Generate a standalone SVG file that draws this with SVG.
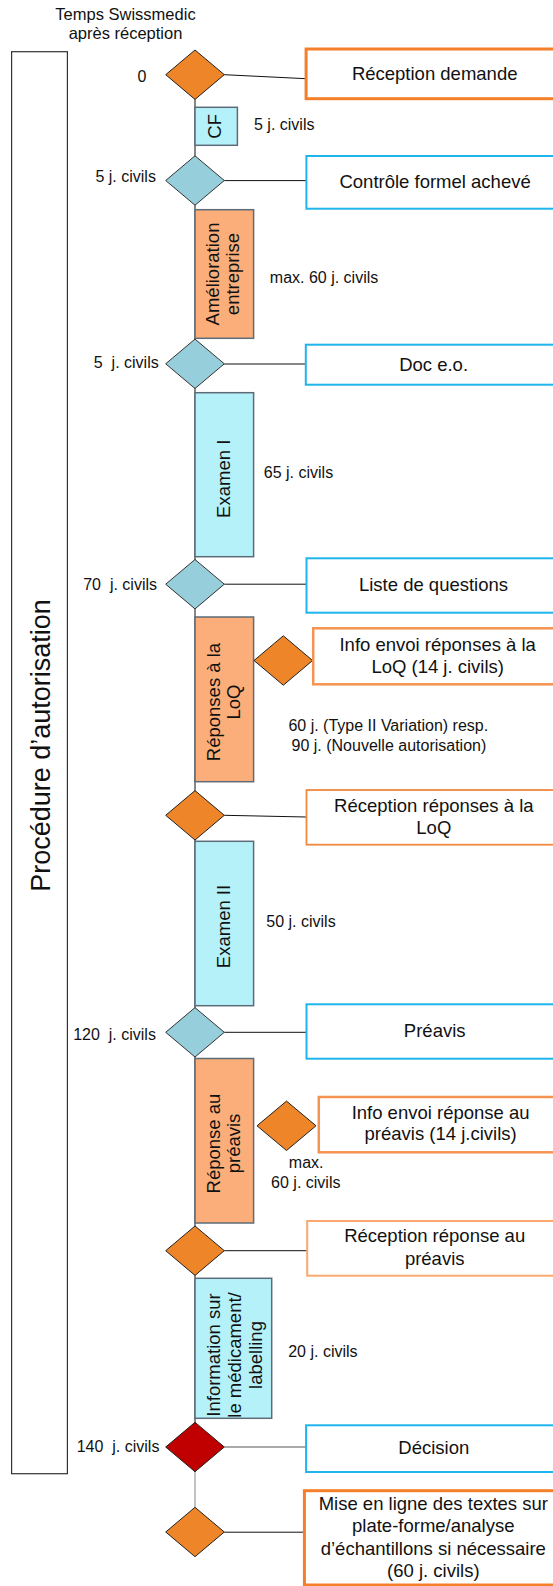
<svg xmlns="http://www.w3.org/2000/svg" width="553" height="1586" viewBox="0 0 553 1586">
<style>
text{font-family:"Liberation Sans",Arial,sans-serif;fill:#111}
.sm{font-size:16px;white-space:pre}
.hd{font-size:16.5px;text-anchor:middle}
.bx{font-size:18.5px;text-anchor:middle}
.rt{font-size:18.5px;text-anchor:middle}
.dor{fill:#EF8529;stroke:#222;stroke-width:1}
.dbl{fill:#97CEDC;stroke:#333;stroke-width:1}
.dred{fill:#C00000;stroke:#222;stroke-width:1}
.rcy{fill:#B5F1F9;stroke:#5E6B78;stroke-width:1.5}
.rsa{fill:#FBAE79;stroke:#5E6B78;stroke-width:1.5}
.bbl{fill:#fff;stroke:#1EB4EC;stroke-width:2}
.bor{fill:#fff;stroke:#F47E2A;stroke-width:3}
.bol{fill:#fff;stroke:#F59352;stroke-width:2.5}
.bot{fill:#fff;stroke:#F3883F;stroke-width:1.8}
.bop{fill:#fff;stroke:#FBA86E;stroke-width:2}
.ln{stroke:#111;stroke-width:1;fill:none}
.lm{stroke:#555;stroke-width:1;fill:none}
.lg{stroke:#9a9a9a;stroke-width:1.2;fill:none}
</style>

<g id="header">
<text class="hd" x="125.5" y="19.5">Temps Swissmedic</text>
<text class="hd" x="125.5" y="39">après réception</text>
</g>

<g id="lane">
<rect x="11.6" y="51.7" width="55.8" height="1422" fill="#fff" stroke="#333" stroke-width="1.2"/>
<text transform="translate(50,745.5) rotate(-90)" style="font-size:27px;text-anchor:middle">Procédure d’autorisation</text>
</g>

<g id="connectors">
<line class="ln" x1="195" y1="99" x2="195" y2="1472"/>
<line class="lg" x1="195" y1="1471.7" x2="195" y2="1507.5"/>
<line class="ln" x1="224.3" y1="74.7" x2="306.1" y2="78.7"/>
<line class="ln" x1="224.3" y1="180.6" x2="306.4" y2="180.6"/>
<line class="ln" x1="224.3" y1="364" x2="305.8" y2="364"/>
<line class="ln" x1="224.3" y1="584.2" x2="306.5" y2="584.2"/>
<line class="ln" x1="224.3" y1="815.3" x2="306.5" y2="817"/>
<line class="ln" x1="224.3" y1="1032.3" x2="306.5" y2="1032.3"/>
<line class="ln" x1="224.3" y1="1250.7" x2="307.2" y2="1250.7"/>
<line class="lm" x1="224.3" y1="1447" x2="306.1" y2="1447"/>
<line class="ln" x1="224.3" y1="1532.2" x2="304.4" y2="1532.2"/>
</g>

<g id="d1"><polygon class="dor" points="165.7,74.7 195,50 224.3,74.7 195,99.4"/><text class="sm" x="146.5" y="81.5" text-anchor="end">0</text></g>
<g id="b1"><rect class="bor" x="306.1" y="49" width="257" height="49.7"/><text class="bx" x="434.7" y="79.5">Réception demande</text></g>

<g id="cf"><rect class="rcy" x="195" y="107.3" width="42.4" height="38"/><text class="rt" transform="translate(220.7,126.3) rotate(-90)">CF</text><text class="sm" x="254" y="130">5 j. civils</text></g>

<g id="d2"><polygon class="dbl" points="165.7,180.5 195,155.8 224.3,180.5 195,205.2"/><text class="sm" x="155.9" y="181.7" text-anchor="end">5 j. civils</text></g>
<g id="b2"><rect class="bbl" x="306.4" y="156" width="257" height="52.7"/><text class="bx" x="435.1" y="188">Contrôle formel achevé</text></g>

<g id="amelioration"><rect class="rsa" x="195" y="209.7" width="58.6" height="128.6"/><text class="rt" transform="translate(219,274) rotate(-90)">Amélioration</text><text class="rt" transform="translate(239,274) rotate(-90)">entreprise</text><text class="sm" x="269.8" y="283.3">max. 60 j. civils</text></g>

<g id="d3"><polygon class="dbl" points="165.7,363.8 195,339.1 224.3,363.8 195,388.5"/><text class="sm" x="158.7" y="368.3" text-anchor="end">5  j. civils</text></g>
<g id="b3"><rect class="bbl" x="305.8" y="344.7" width="257" height="40"/><text class="bx" x="433.6" y="371">Doc e.o.</text></g>

<g id="examen1"><rect class="rcy" x="195" y="392.7" width="58.6" height="164"/><text class="rt" transform="translate(230,478.8) rotate(-90)">Examen I</text><text class="sm" x="263.8" y="477.7">65 j. civils</text></g>

<g id="d4"><polygon class="dbl" points="165.7,584.2 195,559.5 224.3,584.2 195,608.9"/><text class="sm" x="157" y="590" text-anchor="end">70  j. civils</text></g>
<g id="b4"><rect class="bbl" x="306.5" y="558.3" width="257" height="54.4"/><text class="bx" x="433.5" y="591">Liste de questions</text></g>

<g id="reponses"><rect class="rsa" x="195" y="617" width="58.6" height="164.7"/><text class="rt" transform="translate(219.5,702) rotate(-90)">Réponses à la</text><text class="rt" transform="translate(240,702) rotate(-90)">LoQ</text>
<text class="sm" x="388.3" y="731" text-anchor="middle">60 j. (Type II Variation) resp.</text><text class="sm" x="388.9" y="751" text-anchor="middle">90 j. (Nouvelle autorisation)</text></g>

<g id="s1"><polygon class="dor" points="254,660.5 283.3,635.8 312.6,660.5 283.3,685.2"/></g>
<g id="info1"><rect class="bol" x="313.2" y="628.3" width="250" height="56"/><text class="bx" x="437.7" y="651">Info envoi réponses à la</text><text class="bx" x="437.7" y="672.5">LoQ (14 j. civils)</text></g>

<g id="d5"><polygon class="dor" points="165.7,815.3 195,790.6 224.3,815.3 195,840"/></g>
<g id="b5"><rect class="bot" x="306.5" y="790" width="257" height="54.7"/><text class="bx" x="433.8" y="812">Réception réponses à la</text><text class="bx" x="433.8" y="833.5">LoQ</text></g>

<g id="examen2"><rect class="rcy" x="195" y="841.3" width="58.6" height="164.4"/><text class="rt" transform="translate(230,926.5) rotate(-90)">Examen II</text><text class="sm" x="266.3" y="926.7">50 j. civils</text></g>

<g id="d6"><polygon class="dbl" points="165.7,1032.3 195,1007.6 224.3,1032.3 195,1057"/><text class="sm" x="155.9" y="1040" text-anchor="end">120  j. civils</text></g>
<g id="b6"><rect class="bbl" x="306.5" y="1004.3" width="257" height="54.4"/><text class="bx" x="434.7" y="1037">Préavis</text></g>

<g id="reponse-preavis"><rect class="rsa" x="195" y="1058.5" width="58.6" height="164.5"/><text class="rt" transform="translate(219.5,1143.5) rotate(-90)">Réponse au</text><text class="rt" transform="translate(240,1143.5) rotate(-90)">préavis</text>
<text class="sm" x="306.2" y="1168.3" text-anchor="middle">max.</text><text class="sm" x="305.8" y="1188.3" text-anchor="middle">60 j. civils</text></g>

<g id="s2"><polygon class="dor" points="257,1125.8 286.5,1101.1 316,1125.8 286.5,1150.5"/></g>
<g id="info2"><rect class="bol" x="318.8" y="1097" width="245" height="55.3"/><text class="bx" x="440.6" y="1118.5">Info envoi réponse au</text><text class="bx" x="440.6" y="1140.3">préavis (14 j.civils)</text></g>

<g id="d7"><polygon class="dor" points="165.7,1250.7 195,1226 224.3,1250.7 195,1275.4"/></g>
<g id="b7"><rect class="bop" x="307.2" y="1221" width="257" height="54.7"/><text class="bx" x="434.7" y="1242">Réception réponse au</text><text class="bx" x="434.7" y="1265">préavis</text></g>

<g id="information"><rect class="rcy" x="195" y="1278.3" width="76.7" height="140"/><text class="rt" transform="translate(219.5,1355) rotate(-90)">Information sur</text><text class="rt" transform="translate(240.8,1355) rotate(-90)">le médicament/</text><text class="rt" transform="translate(262,1355) rotate(-90)">labelling</text>
<text class="sm" x="288.2" y="1356.7">20 j. civils</text></g>

<g id="d8"><polygon class="dred" points="165.7,1447 195,1422.3 224.3,1447 195,1471.7"/><text class="sm" x="159.4" y="1451.7" text-anchor="end">140  j. civils</text></g>
<g id="b8"><rect class="bbl" x="306.1" y="1425.3" width="257" height="46.7"/><text class="bx" x="433.8" y="1453.5">Décision</text></g>

<g id="d9"><polygon class="dor" points="165.7,1532 195,1507.3 224.3,1532 195,1556.7"/></g>
<g id="b9"><rect class="bor" x="304.4" y="1490.7" width="257" height="94.3"/><text class="bx" x="433.3" y="1510.3">Mise en ligne des textes sur</text><text class="bx" x="433.3" y="1532">plate-forme/analyse</text><text class="bx" x="433.3" y="1555.3">d’échantillons si nécessaire</text><text class="bx" x="433.3" y="1577">(60 j. civils)</text></g>
</svg>
